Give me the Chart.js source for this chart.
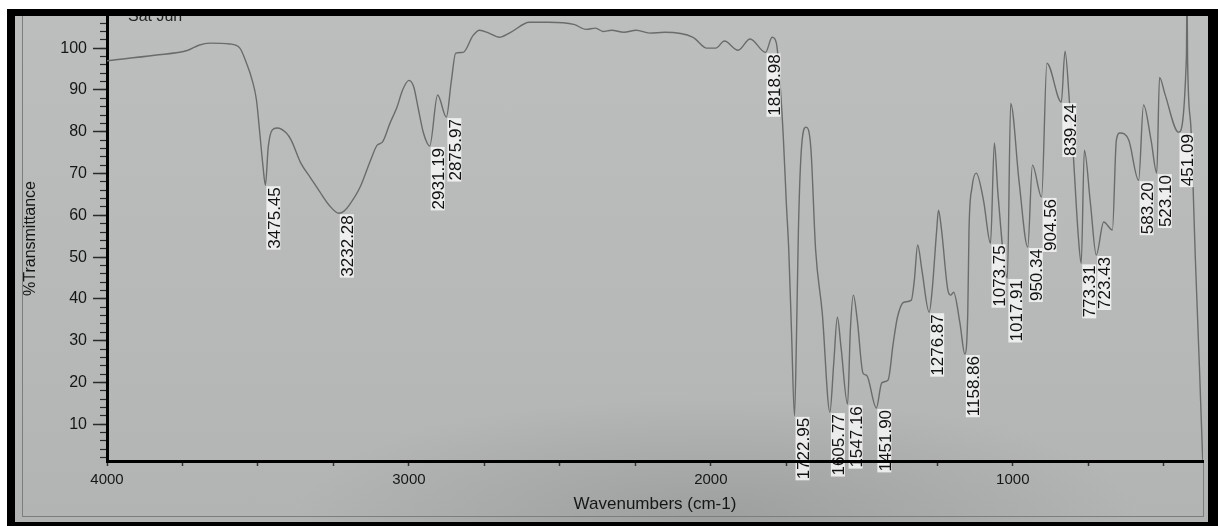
<!DOCTYPE html>
<html>
<head>
<meta charset="utf-8">
<script src="https://cdn.jsdelivr.net/npm/chart.js@4/dist/chart.umd.min.js"></script>
<style>
  html, body { margin: 0; padding: 0; background: #fff; width: 1218px; height: 526px; overflow: hidden; }
  #paper { position: absolute; left: 15px; top: 16px; width: 1193px; height: 506px;
    background: radial-gradient(ellipse 420px 120px at 700px 500px, rgba(120,122,121,0.35), rgba(120,122,121,0) 100%),
                linear-gradient(#bcbebd, #b6b8b7 70%, #b2b4b3); }
  .line { position: absolute; background: #7c7e7d; }
  #wrap { position: absolute; left: 15px; top: 16px; width: 1193px; height: 506px; }
  #stamp { position: absolute; left: 128px; top: 7px; font: 16px "Liberation Sans", Arial, sans-serif; color: #222; }
  .bar { position: absolute; background: #000; z-index: 10; }
</style>
</head>
<body>
<div id="paper"></div>
<div class="line" style="left:22px; top:16px; width:1px; height:500px;"></div>
<div class="line" style="left:22px; top:516px; width:1182px; height:1px;"></div>
<div class="line" style="left:1203px; top:462px; width:1px; height:54px;"></div>
<div id="wrap"><canvas id="spectrum"></canvas></div>
<div id="stamp">Sat Jun</div>
<div class="bar" style="left:0; top:0; width:1218px; height:9px; background:#fff;"></div>
<div class="bar" style="left:7px; top:9px; width:1211px; height:7px;"></div>
<div class="bar" style="left:7px; top:9px; width:8px; height:517px;"></div>
<div class="bar" style="left:7px; top:522px; width:1211px; height:4px;"></div>
<div class="bar" style="left:1208px; top:9px; width:10px; height:517px;"></div>
<script>
// spectrum, high wavenumber to low
const wavenumbers = [4000, 3842, 3732, 3696, 3659, 3593, 3560, 3538, 3519, 3505, 3494, 3483, 3475.45, 3466, 3453, 3437, 3406, 3390, 3358, 3327, 3295, 3264, 3232.28, 3215, 3197, 3162, 3127, 3105, 3088, 3063, 3039, 3021, 3000, 2984, 2969, 2953, 2941, 2931.19, 2905, 2875.97, 2860, 2845, 2820, 2788, 2766, 2735, 2701, 2663, 2601, 2538, 2454, 2413, 2382, 2357, 2329, 2288, 2247, 2203, 2153, 2059, 2013, 1984, 1955, 1910, 1870, 1818.98, 1797, 1783, 1770, 1760, 1750, 1742, 1733, 1722.95, 1716, 1710, 1701, 1685, 1669, 1653, 1631, 1605.77, 1593, 1581, 1569, 1547.16, 1538, 1528, 1515, 1496, 1484, 1451.90, 1434, 1413, 1396, 1382, 1361, 1336, 1326, 1315, 1301, 1276.87, 1267, 1252, 1246, 1236, 1215, 1205, 1196, 1175, 1158.86, 1149, 1145, 1135, 1121, 1097, 1073.75, 1061, 1049, 1017.91, 1007, 979, 950.34, 935, 904.56, 887, 839.24, 827, 812, 800, 783, 773.31, 763, 743, 723.43, 699, 670, 657, 645, 616, 583.20, 567, 542, 523.10, 514, 496, 451.09, 425, 423, 421, 410, 395, 382, 371];
const transmittance = [97.0, 98.3, 99.5, 100.7, 101.2, 101.0, 100.0, 96.4, 92.3, 87.6, 79.7, 71.5, 67.2, 76.3, 80.4, 80.9, 79.7, 78.0, 72.5, 69.1, 65.6, 62.4, 60.5, 61.0, 62.5, 66.7, 73.2, 76.8, 77.5, 82.0, 86.0, 90.0, 92.3, 90.7, 85.5, 80.0, 77.5, 76.6, 88.8, 83.5, 91.9, 98.8, 99.0, 103.0, 104.3, 103.6, 102.6, 103.8, 106.2, 106.2, 105.7, 104.5, 104.8, 104.0, 104.3, 103.8, 104.3, 103.6, 103.8, 102.6, 100.0, 100.0, 101.7, 99.5, 102.2, 99.0, 102.6, 101.2, 90.7, 78.7, 62.9, 51.7, 32.5, 12.0, 32.5, 56.5, 74.9, 81.1, 76.3, 51.7, 36.6, 12.9, 24.6, 35.6, 28.5, 14.8, 32.5, 40.9, 34.9, 22.2, 21.7, 13.9, 19.9, 20.6, 29.4, 35.6, 39.2, 39.7, 44.5, 52.9, 46.9, 36.8, 42.1, 56.5, 61.2, 56.5, 42.1, 40.9, 41.6, 34.2, 26.8, 37.0, 56.5, 66.7, 70.1, 63.6, 53.3, 77.3, 65.0, 45.0, 86.8, 68.0, 52.4, 72.0, 64.4, 96.4, 87.1, 99.3, 86.8, 74.9, 55.0, 48.5, 75.6, 63.0, 50.5, 58.4, 56.5, 78.0, 79.7, 78.0, 68.4, 86.4, 78.0, 70.1, 93.0, 89.0, 79.9, 97.8, 115, 97.0, 81.0, 49.0, 24.0, 1.5];
const peakLabels = ['3475.45', '3232.28', '2931.19', '2875.97', '1818.98', '1722.95', '1605.77', '1547.16', '1451.90', '1276.87', '1158.86', '1073.75', '1017.91', '950.34', '904.56', '839.24', '773.31', '723.43', '583.20', '523.10', '451.09'];
const xTickLabels = [1000, 2000, 3000, 4000];
const yTickLabels = [10, 20, 30, 40, 50, 60, 70, 80, 90, 100];

const FONT = '"Liberation Sans", Arial, sans-serif';
Chart.defaults.font.family = FONT;
Chart.defaults.color = '#161616';

const points = wavenumbers.map((w, i) => ({ x: w, y: transmittance[i] }));

// no extra room for half tick labels, the plot runs into the frame
function noPad(scale) {
  scale.paddingTop = 0;
  scale.paddingBottom = 0;
}

const peakLabelPlugin = {
  id: 'peakLabels',
  afterDatasetsDraw(chart) {
    const { ctx, scales: { x, y } } = chart;
    ctx.save();
    ctx.font = '17px ' + FONT;
    ctx.textAlign = 'right';
    ctx.textBaseline = 'top';
    peakLabels.forEach(label => {
      const wn = parseFloat(label);
      const i = wavenumbers.indexOf(wn);
      const px = x.getPixelForValue(wn);
      const py = y.getPixelForValue(transmittance[i]);
      const w = ctx.measureText(label).width;
      ctx.save();
      ctx.translate(px + 1, py + 2);
      ctx.rotate(-Math.PI / 2);
      ctx.fillStyle = 'rgba(246,247,246,0.85)';
      ctx.fillRect(-w - 1, 0, w + 2, 14);
      ctx.fillStyle = '#121212';
      ctx.fillText(label, 0, 0);
      ctx.restore();
    });
    ctx.restore();
  }
};

new Chart(document.getElementById('spectrum'), {
  type: 'line',
  data: {
    datasets: [{
      data: points,
      borderColor: '#6a6b6a',
      borderWidth: 1.4,
      pointRadius: 0,
      fill: false,
      cubicInterpolationMode: 'monotone',
      yAxisID: 'y'
    }]
  },
  options: {
    responsive: true,
    maintainAspectRatio: false,
    animation: false,
    devicePixelRatio: 1,
    layout: { padding: { left: 0, right: 5, top: 0, bottom: 0 } },
    plugins: { legend: { display: false }, tooltip: { enabled: false } },
    scales: {
      x: {
        type: 'linear',
        reverse: true,
        min: 370,
        max: 4000,
        afterFit(scale) { scale.height = 61; scale.paddingLeft = 0; scale.paddingRight = 0; },
        border: { display: true, color: '#000', width: 3, z: 1 },
        grid: { drawOnChartArea: false, tickLength: 5, tickWidth: 1.5, tickColor: '#333' },
        ticks: {
          stepSize: 250,
          includeBounds: false,
          autoSkip: false,
          maxRotation: 0,
          padding: 5,
          font: { size: 15 },
          callback: v => xTickLabels.includes(v) ? String(v) : ''
        },
        title: { display: true, text: 'Wavenumbers (cm-1)', font: { size: 17 }, padding: { top: 0, bottom: 7 } }
      },
      y: {
        position: 'left',
        weight: 1,
        min: 1.2,
        max: 107.7,
        afterFit(scale) { scale.width = 92; noPad(scale); },
        border: { display: true, color: '#000', width: 3 },
        grid: { drawOnChartArea: false, tickLength: 14, tickWidth: 1.5, tickColor: '#2a2a2a' },
        ticks: {
          stepSize: 10,
          includeBounds: false,
          padding: 6,
          font: { size: 16 },
          callback: v => yTickLabels.includes(v) ? String(v) : ''
        },
        title: { display: true, text: '%Transmittance', font: { size: 16 }, padding: { top: 6, bottom: 0 } }
      },
      yMinor: {
        position: 'left',
        weight: 0,
        min: 1.2,
        max: 107.7,
        afterFit(scale) { scale.width = 0; noPad(scale); },
        border: { display: true, color: '#000', width: 3 },
        grid: { drawOnChartArea: false, tickLength: 7, tickWidth: 1.2, tickColor: '#2a2a2a' },
        ticks: { stepSize: 2, includeBounds: false, autoSkip: false, callback: () => '' }
      }
    }
  },
  plugins: [peakLabelPlugin]
});
</script>
</body>
</html>
